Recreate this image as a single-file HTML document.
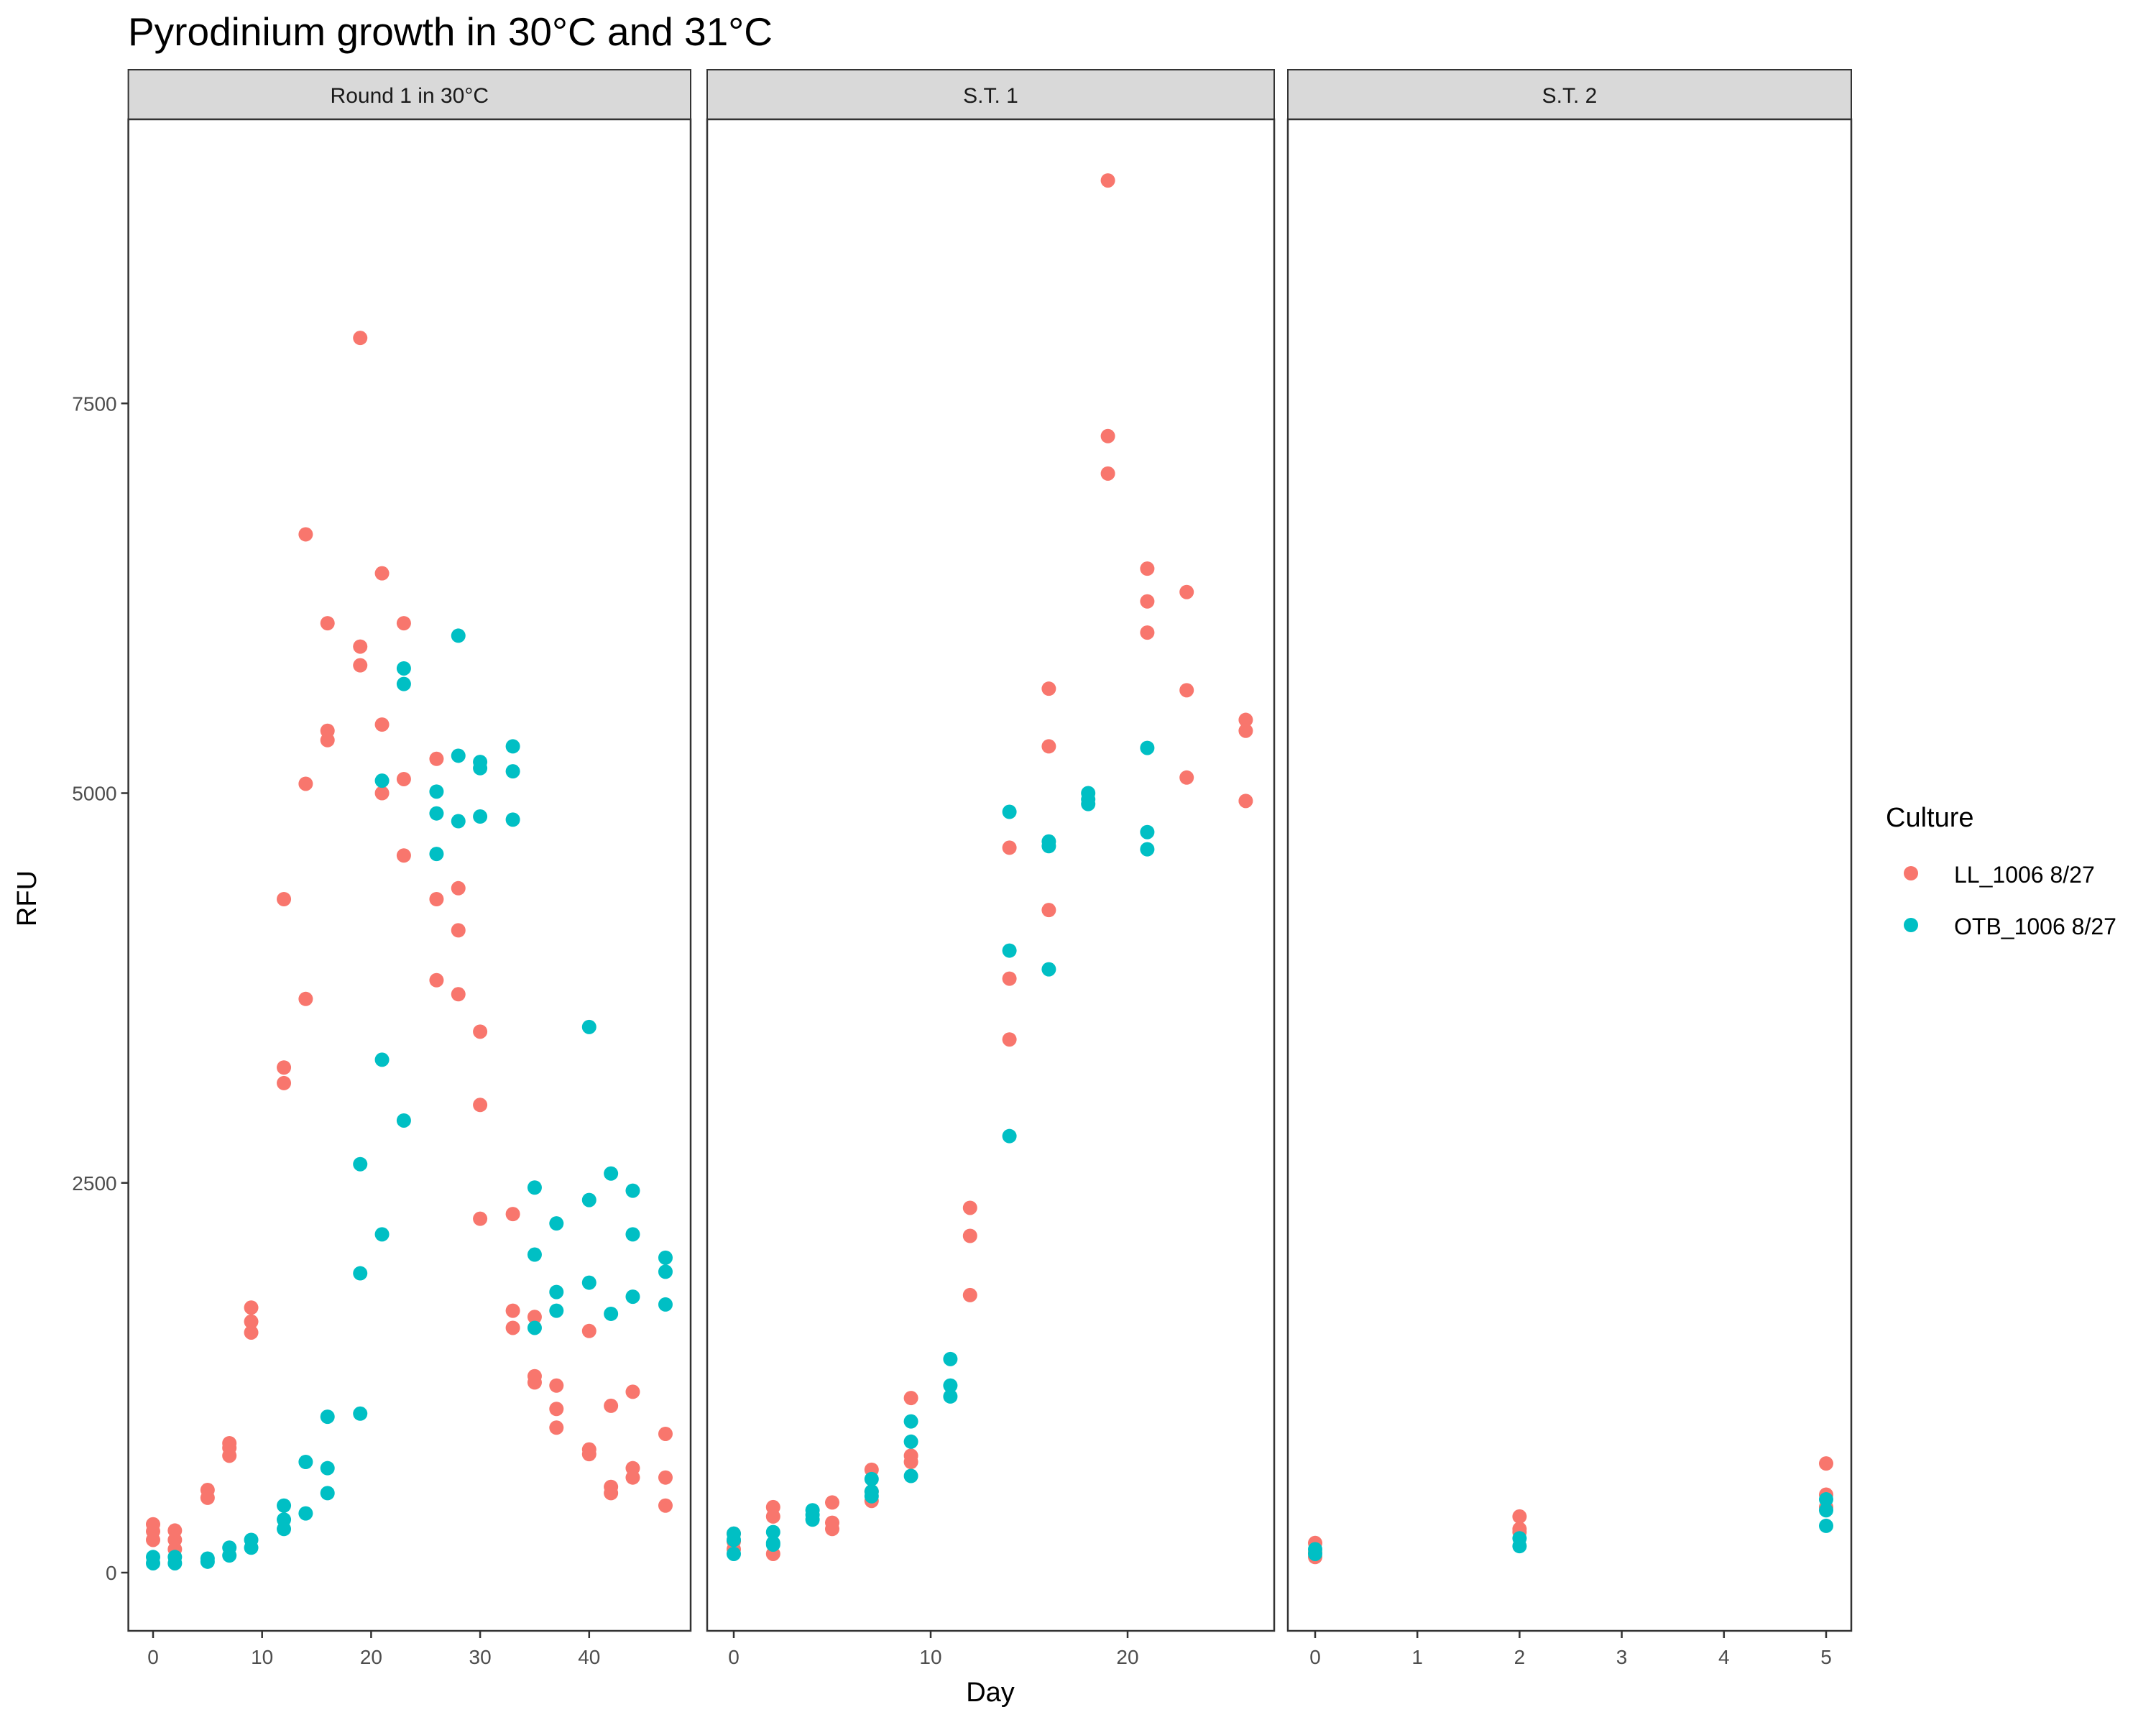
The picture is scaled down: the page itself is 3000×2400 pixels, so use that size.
<!DOCTYPE html>
<html><head><meta charset="utf-8"><style>
html,body{margin:0;padding:0;background:#fff}
svg{display:block;font-family:"Liberation Sans",Arial,sans-serif}
</style></head><body>
<svg id="chart" width="3000" height="2400" viewBox="0 0 3000 2400">
<rect width="3000" height="2400" fill="#fff"/>
<text x="178" y="63" font-size="55" fill="#000">Pyrodinium growth in 30°C and 31°C</text>
<text x="50" y="1250" font-size="38" fill="#000" text-anchor="middle" transform="rotate(-90 50 1250)">RFU</text>
<text x="1378" y="2367" font-size="38" fill="#000" text-anchor="middle">Day</text>
<g>
<text x="2624" y="1150" font-size="38" fill="#000">Culture</text>
<circle cx="2659" cy="1215" r="10" fill="#F8766D"/>
<text x="2719" y="1228" font-size="32" fill="#000">LL_1006 8/27</text>
<circle cx="2659" cy="1287" r="10" fill="#00BFC4"/>
<text x="2719" y="1300" font-size="32" fill="#000">OTB_1006 8/27</text>
</g>
<g id="panels"></g>
</svg>
<script>
const panelTitles = ["Round 1 in 30°C", "S.T. 1", "S.T. 2"];
const yTicks = [0, 2500, 5000, 7500];
const xTicks1 = [0, 10, 20, 30, 40];
const xTicks2 = [0, 10, 20];
const xTicks3 = [0, 1, 2, 3, 4, 5];
// [day, RFU]
const llRound1 = [[0,310],[0,265],[0,210],[2,270],[2,210],[2,150],[5,530],[5,480],[7,830],[7,800],[7,750],[9,1700],[9,1610],[9,1540],[12,4320],[12,3240],[12,3140],[14,6660],[14,5060],[14,3680],[16,6090],[16,5400],[16,5340],[19,7920],[19,5940],[19,5820],[21,6410],[21,5440],[21,5000],[23,6090],[23,5090],[23,4600],[26,5220],[26,4320],[26,3800],[28,4390],[28,4120],[28,3710],[30,3470],[30,3000],[30,2270],[33,2300],[33,1680],[33,1570],[35,1640],[35,1260],[35,1220],[37,1200],[37,1050],[37,930],[40,790],[40,760],[40,1550],[42,1070],[42,550],[42,510],[44,1160],[44,670],[44,610],[47,890],[47,610],[47,430]];
const otbRound1 = [[0,100],[0,60],[2,100],[2,60],[5,90],[5,70],[7,160],[7,110],[9,210],[9,160],[12,430],[12,340],[12,280],[14,710],[14,380],[16,1000],[16,670],[16,510],[19,2620],[19,1920],[19,1020],[21,5080],[21,3290],[21,2170],[23,5800],[23,5700],[23,2900],[26,5010],[26,4870],[26,4610],[28,6010],[28,5240],[28,4820],[30,5200],[30,5160],[30,4850],[33,5300],[33,5140],[33,4830],[35,2470],[35,2040],[35,1570],[37,2240],[37,1800],[37,1680],[40,3500],[40,2390],[40,1860],[42,2560],[42,1660],[44,2450],[44,2170],[44,1770],[47,2020],[47,1930],[47,1720]];
const llST1 = [[0,250],[0,200],[0,150],[2,420],[2,360],[2,120],[5,450],[5,320],[5,280],[7,660],[7,520],[7,460],[9,1120],[9,750],[9,710],[12,2340],[12,2160],[12,1780],[14,4650],[14,3810],[14,3420],[16,5670],[16,5300],[16,4250],[19,8930],[19,7290],[19,7050],[21,6440],[21,6230],[21,6030],[23,6290],[23,5660],[23,5100],[26,5470],[26,5400],[26,4950]];
const otbST1 = [[0,250],[0,210],[0,120],[2,260],[2,190],[2,180],[4,400],[4,370],[4,340],[7,600],[7,520],[7,490],[9,970],[9,840],[9,620],[11,1370],[11,1200],[11,1130],[14,4880],[14,3990],[14,2800],[16,4690],[16,4660],[16,3870],[18,5000],[18,4960],[18,4930],[21,5290],[21,4750],[21,4640]];
const llST2 = [[0,190],[0,130],[0,100],[2,360],[2,280],[2,260],[5,700],[5,500],[5,420]];
const otbST2 = [[0,150],[0,120],[2,220],[2,170],[5,470],[5,400],[5,300]];

const NS = "http://www.w3.org/2000/svg";
const TOP = 166, BOTTOM = 2269;
const yScale = v => 2188 - v * 0.2169;
const panels = [
  {left:178.6, right:961, x0:213, k:15.17, ticks:xTicks1, ll:llRound1, otb:otbRound1, name:"round1"},
  {left:984, right:1773, x0:1021, k:27.4, ticks:xTicks2, ll:llST1, otb:otbST1, name:"st1"},
  {left:1792, right:2576, x0:1830, k:142.2, ticks:xTicks3, ll:llST2, otb:otbST2, name:"st2"}
];
const root = document.getElementById("panels");
function mk(tag, attrs, parent){
  const e = document.createElementNS(NS, tag);
  for (const a in attrs) e.setAttribute(a, attrs[a]);
  parent.appendChild(e);
  return e;
}
panels.forEach((p, i) => {
  const g = mk("g", {}, root);
  
  
  const xs = d => p.x0 + d * p.k;
  const strip = mk("rect", {x:p.left, y:97, width:p.right-p.left, height:69, fill:"#D9D9D9", stroke:"#333", "stroke-width":2}, g);
  
  
  const st = mk("text", {x:(p.left+p.right)/2, y:143, "font-size":30, fill:"#1A1A1A", "text-anchor":"middle"}, g);
  st.textContent = panelTitles[i];
  
  
  const pts = mk("g", {}, g);
  
  
  [[p.ll, "#F8766D", "ll"], [p.otb, "#00BFC4", "otb"]].forEach(([arr, col, nm]) => {
    arr.forEach(d => {
      const c = mk("circle", {cx:xs(d[0]), cy:yScale(d[1]), r:10, fill:col}, pts);
      
      
    });
  });
  const frame = mk("rect", {x:p.left, y:TOP, width:p.right-p.left, height:BOTTOM-TOP, fill:"none", stroke:"#333", "stroke-width":2.5}, g);
  
  
  p.ticks.forEach(t => {
    const x = xs(t);
    const tk = mk("line", {x1:x, x2:x, y1:BOTTOM, y2:BOTTOM+10, stroke:"#333", "stroke-width":2.5}, g);
    
    
    const tl = mk("text", {x:x, y:BOTTOM+46, "font-size":28, fill:"#4D4D4D", "text-anchor":"middle"}, g);
    tl.textContent = t;
    
    
  });
  if (i === 0) {
    yTicks.forEach(t => {
      const y = yScale(t);
      const tk = mk("line", {x1:p.left-10, x2:p.left, y1:y, y2:y, stroke:"#333", "stroke-width":2.5}, g);
      
      
      const tl = mk("text", {x:p.left-16, y:y+10, "font-size":28, fill:"#4D4D4D", "text-anchor":"end"}, g);
      tl.textContent = t;
      
      
    });
  }
});
</script>
</body></html>
